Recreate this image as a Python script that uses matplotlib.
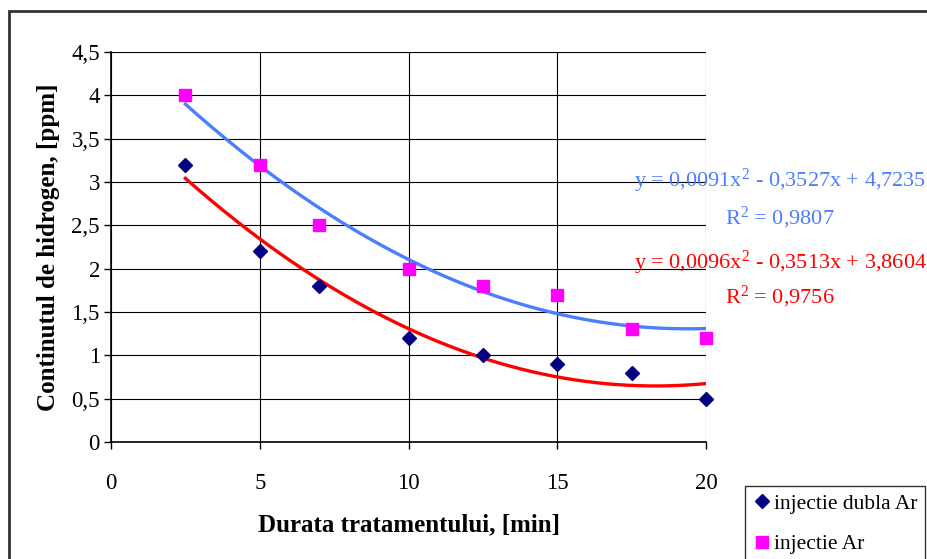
import numpy as np
import matplotlib
matplotlib.use("Agg")
import matplotlib.pyplot as plt
from matplotlib.patches import Rectangle

x_vals = [2.5, 5, 7, 10, 12.5, 15, 17.5, 20]
dubla = [3.2, 2.2, 1.8, 1.2, 1.0, 0.9, 0.8, 0.5]
simpla = [4.0, 3.2, 2.5, 2.0, 1.8, 1.7, 1.3, 1.2]
coef_simpla = [0.0091, -0.3527, 4.7235]
coef_dubla = [0.0096, -0.3513, 3.8604]
r2_simpla = "0,9807"
r2_dubla = "0,9756"
xticks = [0, 5, 10, 15, 20]
yticks = [0, 0.5, 1, 1.5, 2, 2.5, 3, 3.5, 4, 4.5]
ytick_labels = ["0", "0,5", "1", "1,5", "2", "2,5", "3", "3,5", "4", "4,5"]

plt.rcParams['font.family'] = ['Liberation Serif', 'DejaVu Serif']
plt.rcParams['mathtext.fontset'] = 'custom'
plt.rcParams['mathtext.rm'] = 'Liberation Serif'

fig = plt.figure(figsize=(9.27, 5.59), dpi=100)
W, H = 927, 559
ax = fig.add_axes([111/W, 1-442/H, (706-111)/W, (442-52)/H])

xs = np.linspace(2.5, 20, 200)
ax.plot(xs, np.polyval(coef_simpla, xs), color='#4A7EFF', lw=2.4, zorder=3)
ax.plot(xs, np.polyval(coef_dubla, xs), color='#FF0000', lw=2.4, zorder=3)
ax.plot(x_vals, dubla, linestyle='none', marker='D', color='#000080', ms=7,
        label='injectie dubla Ar', zorder=4, clip_on=False)
ax.plot(x_vals, simpla, linestyle='none', marker='s', color='#FF00FF', ms=8.5,
        label='injectie Ar', zorder=4, clip_on=False)

ax.set_xlim(0, 20)
ax.set_ylim(0, 4.5)
ax.set_xticks(xticks)
ax.set_xticklabels([str(t) for t in xticks])
ax.set_yticks(yticks)
ax.set_yticklabels(ytick_labels)
for s in ['top', 'right']:
    ax.spines[s].set_visible(False)
for s in ['left', 'bottom']:
    ax.spines[s].set_linewidth(1.2)
ax.grid(True, color='black', lw=0.8)
ax.tick_params(axis='both', labelsize=16.5, length=5, width=1, direction='out')
ax.tick_params(axis='x', pad=17)
ax.tick_params(axis='y', pad=3)

ax.set_ylabel('Continutul de hidrogen, [ppm]', fontsize=18, fontweight='bold', labelpad=8)
ax.set_xlabel('Durata tratamentului, [min]', fontsize=18, fontweight='bold', labelpad=14)

def eq_text(c):
    a, b, d = c
    fa = f"{a:.4f}".replace('.', ',')
    fb = f"{abs(b):.4f}".replace('.', ',')
    fd = f"{d:.4f}".replace('.', ',')
    return f"y = {fa}x$\\mathregular{{^2}}$ - {fb}x + {fd}"

fig.text(780/W, 1-181/H, eq_text(coef_simpla), color='#4A7EFF', fontsize=16,
         ha='center', va='center')
fig.text(780/W, 1-218/H, "R$\\mathregular{^2}$ = " + r2_simpla, color='#4A7EFF', fontsize=16,
         ha='center', va='center')
fig.text(780/W, 1-263/H, eq_text(coef_dubla), color='#FF0000', fontsize=16,
         ha='center', va='center')
fig.text(780/W, 1-297/H, "R$\\mathregular{^2}$ = " + r2_dubla, color='#FF0000', fontsize=16,
         ha='center', va='center')

leg = fig.legend(loc='upper left', bbox_to_anchor=(745/W, 1-486/H), fontsize=15.5,
                 frameon=True, fancybox=False, edgecolor='black', handletextpad=0.1,
                 handlelength=0.9, borderpad=0.35, labelspacing=0.95, borderaxespad=0)
leg.get_frame().set_linewidth(1.0)

fig.patches.append(Rectangle((9/W, -0.1), 1.2, 1-11/H+0.1, transform=fig.transFigure,
                             fill=False, edgecolor='#333333', lw=2))

fig.savefig('out.png', dpi=100)
